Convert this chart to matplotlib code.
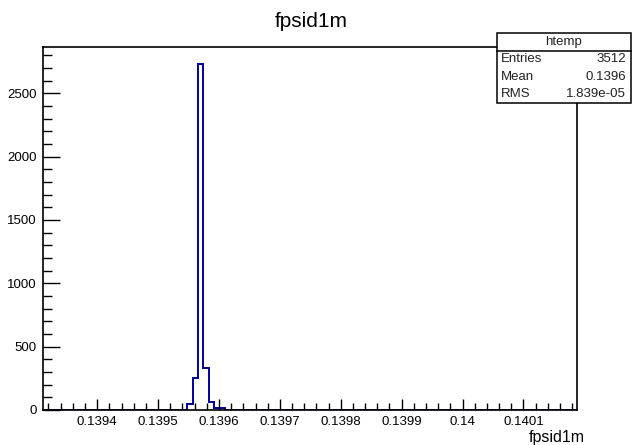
import matplotlib
matplotlib.use("Agg")
import matplotlib.pyplot as plt
import numpy as np
from matplotlib.patches import Rectangle
from matplotlib.ticker import MultipleLocator

plt.rcParams['font.family'] = ['Liberation Sans', 'DejaVu Sans']

# histogram setup (ROOT htemp, 100 bins)
xmin = 0.139311
xmax = 0.140188
nbins = 100
first_bin = 27
counts_nonzero = [45, 250, 2728, 329, 61, 13, 13]

xticks = [0.1394, 0.1395, 0.1396, 0.1397, 0.1398, 0.1399, 0.14, 0.1401]
xtick_labels = ['0.1394', '0.1395', '0.1396', '0.1397', '0.1398', '0.1399', '0.14', '0.1401']
yticks = [0, 500, 1000, 1500, 2000, 2500]

title = 'fpsid1m'
stats_name = 'htemp'
stats_rows = [('Entries', '3512'), ('Mean', '0.1396'), ('RMS', '1.839e-05')]

W, H = 641, 445


def fx(x):
    return x / W


def fy(y):
    return 1 - y / H


counts = np.zeros(nbins)
counts[first_bin:first_bin + len(counts_nonzero)] = counts_nonzero
edges = np.linspace(xmin, xmax, nbins + 1)

fig = plt.figure(figsize=(W / 100, H / 100), dpi=100)
fig.patch.set_facecolor('white')
ax = fig.add_axes([fx(43), fy(410), fx(577) - fx(43), fy(47) - fy(410)])

ax.stairs(counts, edges, color='#000099', linewidth=1.4)
ax.set_xlim(xmin, xmax)
ax.set_ylim(0, counts.max() * 1.05)

ax.set_xticks(xticks)
ax.set_xticklabels(xtick_labels)
ax.xaxis.set_minor_locator(MultipleLocator(0.00002))
ax.set_yticks(yticks)
ax.yaxis.set_minor_locator(MultipleLocator(100))

ax.tick_params(axis='x', which='major', direction='in', length=8, width=1.0,
               pad=4.5, labelsize=9.5)
ax.tick_params(axis='x', which='minor', direction='in', length=5, width=1.0)
ax.tick_params(axis='y', which='major', direction='in', length=12, width=1.0,
               pad=4.5, labelsize=9.5)
ax.tick_params(axis='y', which='minor', direction='in', length=6.5, width=1.0)
for s in ax.spines.values():
    s.set_linewidth(1.2)

# title and axis label
fig.text(fx(311.5), fy(27), title, ha='center', va='baseline', fontsize=15)
fig.text(fx(585), fy(442), 'fpsid1m', ha='right', va='baseline', fontsize=11.5)

# stats box
bx0, by0, bx1, by1 = 497, 33, 631, 103
fig.add_artist(Rectangle((fx(bx0), fy(by1)), fx(bx1) - fx(bx0), fy(by0) - fy(by1),
                         transform=fig.transFigure, facecolor='white',
                         edgecolor='black', linewidth=1.1, zorder=5))
sep = 50.5
fig.add_artist(plt.Line2D([fx(bx0), fx(bx1)], [fy(sep), fy(sep)],
                          transform=fig.transFigure, color='black', linewidth=1.1, zorder=6))
fig.text(fx((bx0 + bx1) / 2), fy((by0 + sep) / 2), stats_name, ha='center', va='center',
         fontsize=9.5, color='#222222', zorder=7)
row_h = (by1 - sep) / len(stats_rows)
for i, (k, v) in enumerate(stats_rows):
    yc = sep + row_h * (i + 0.5)
    fig.text(fx(bx0 + 4), fy(yc), k, ha='left', va='center', fontsize=9.5,
             color='#222222', zorder=7)
    fig.text(fx(bx1 - 5), fy(yc), v, ha='right', va='center', fontsize=9.5,
             color='#222222', zorder=7)

fig.savefig('out.png', dpi=100)
